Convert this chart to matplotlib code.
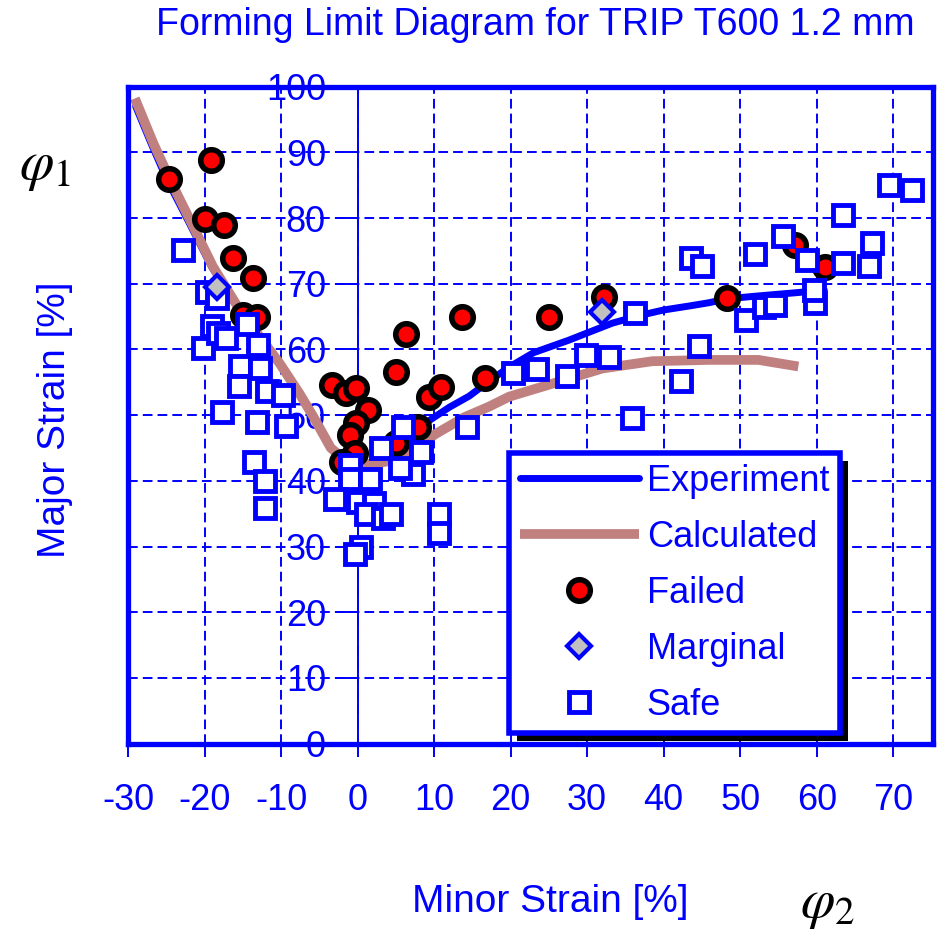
import matplotlib
matplotlib.use('Agg')
import matplotlib.pyplot as plt
from matplotlib.patches import Rectangle

plt.rcParams['font.family'] = ['Liberation Sans', 'DejaVu Sans']
plt.rcParams['mathtext.fontset'] = 'stix'
plt.rcParams['axes.unicode_minus'] = False

# kurven
exp_x = [-29.0, -27.0, -24.9, -22.2, -19.1, -15.5, -12.6, -10.3, -7.6, -5.8, -3.5, -1.5,
         1.0, 3.7, 7.0, 9.4, 12.0, 14.6, 17.0, 19.8, 23.0, 27.6, 30.0, 33.3, 37.0, 40.0,
         43.3, 45.9, 48.3, 52.0, 56.0, 61.0]
exp_y = [97.0, 91.4, 85.8, 79.7, 72.6, 66.0, 61.5, 57.9, 53.3, 49.8, 45.0, 43.0,
         42.5, 42.9, 45.5, 49.2, 51.2, 52.9, 55.0, 57.3, 59.5, 61.4, 62.5, 64.0, 65.2, 66.0,
         66.6, 67.1, 67.7, 68.1, 68.5, 69.0]

calc_x = [-29.1, -26.7, -24.5, -21.9, -18.9, -15.4, -12.5, -10.2, -7.6, -5.8, -3.5, -1.5,
          1.0, 3.7, 6.3, 10.3, 14.0, 17.2, 19.8, 25.5, 32.0, 38.5, 45.9, 52.4, 57.6]
calc_y = [98.2, 91.4, 85.8, 79.7, 72.6, 66.0, 61.5, 57.9, 53.3, 49.8, 45.0, 43.0,
          42.5, 42.9, 44.2, 47.2, 49.7, 51.3, 52.8, 54.8, 57.1, 58.2, 58.4, 58.4, 57.4]

# messpunkte
failed_x = [-24.7, -19.2, -19.9, -17.5, -16.3, -13.7, -15.0, -13.2,
            -3.4, -1.5, -0.2, 1.3, -0.2, -1.0, -0.4, -2.0,
            5.0, 6.3, 13.7, 25.0, 16.6, 9.4, 10.9, 7.9, 5.0,
            32.2, 48.3, 57.2, 61.1]
failed_y = [85.9, 88.9, 79.8, 78.9, 73.9, 70.8, 65.2, 65.0,
            54.6, 53.3, 54.1, 50.8, 48.8, 47.0, 44.2, 42.9,
            56.6, 62.4, 64.9, 64.9, 55.6, 52.8, 54.3, 48.2, 45.7,
            68.0, 67.8, 75.9, 72.6]

marginal_x = [-18.4, 32.0]
marginal_y = [69.5, 65.7]

safe_x = [-22.8, -19.7, -18.4, -20.2, -19.0, -18.2, -17.2, -14.5, -13.0, -15.4, -12.8,
          -15.5, -11.9, -9.7, -17.7, -13.1, -9.3, -13.5, -12.1, -12.1,
          5.9, 14.3, 3.1, 8.3, 7.2, 5.5, -1.0, -1.0, 1.6, -3.0, 0.0, 2.2, 1.1, 3.3,
          4.4, 0.5, -0.4, 10.7, 10.6,
          20.3, 23.5, 27.4, 29.9, 32.9, 36.3, 35.9, 42.3, 44.6, 43.6, 45.0, 50.8,
          53.1, 54.5, 59.8, 59.6, 52.0, 55.6, 58.7, 63.5, 67.2, 63.5, 66.8, 69.5, 72.4]
safe_y = [75.1, 68.8, 67.8, 60.2, 63.5, 62.5, 61.8, 63.8, 60.6, 57.5, 57.1,
          54.5, 53.6, 53.0, 50.5, 48.9, 48.3, 42.9, 39.9, 35.8,
          48.2, 48.2, 45.0, 44.4, 41.1, 42.0, 42.4, 40.2, 40.2, 37.3, 36.7, 36.6, 35.0, 34.3,
          35.0, 30.0, 28.8, 34.9, 32.0,
          56.4, 57.0, 55.9, 59.2, 58.9, 65.5, 49.5, 55.2, 60.5, 73.9, 72.7, 64.4,
          66.5, 66.8, 67.0, 69.0, 74.5, 77.3, 73.6, 80.5, 76.2, 73.1, 72.7, 85.0, 84.3]

x_ticks = list(range(-30, 80, 10))
y_ticks = list(range(0, 110, 10))

blau = '#0000FF'
braun = '#C08080'

fig = plt.figure(figsize=(9.38, 9.35), dpi=100)
ax = fig.add_axes([128 / 938, 1 - 743.6 / 935, 805 / 938, 657 / 935])
ax.set_xlim(-30, 75.2)
ax.set_ylim(0, 100)

ax.plot(exp_x, exp_y, color=blau, lw=5, solid_capstyle='round', zorder=2, label='Experiment')
ax.plot(calc_x, calc_y, color=braun, lw=7, solid_capstyle='butt', zorder=2.1, label='Calculated')
ax.plot(failed_x, failed_y, 'o', ms=15.5, mfc='red', mec='black', mew=4, zorder=3, label='Failed')
ax.plot(marginal_x, marginal_y, 'D', ms=12.5, mfc='#C0C0C0', mec=blau, mew=3, zorder=5, label='Marginal')
ax.plot(safe_x, safe_y, 's', ms=14, mfc='white', mec=blau, mew=3.5, zorder=4, label='Safe')

# achsen / rahmen
ax.set_xticks(x_ticks)
ax.set_yticks(y_ticks)
ax.grid(True, color=blau, linestyle=(0, (5, 2.6)), linewidth=1.4)
ax.set_axisbelow(True)
ax.spines['left'].set_position(('data', 0))
ax.spines['left'].set_linewidth(1.4)
for s in ['top', 'right', 'bottom']:
    ax.spines[s].set_linewidth(3.8)
for s in ax.spines.values():
    s.set_color(blau)
ax.axvline(-30, color=blau, lw=3.8, clip_on=False, zorder=6)
ax.tick_params(axis='y', direction='out', length=15.8, width=1.4, colors=blau, pad=7, labelsize=26)
ax.tick_params(axis='x', direction='out', length=9.5, width=1.4, colors=blau, pad=19, labelsize=26)

leg = ax.legend(loc='upper left', bbox_to_anchor=(0.473, 0.4423), borderaxespad=0,
                fontsize=26, handlelength=3.3, handletextpad=0.22, labelspacing=0.58,
                borderpad=0.3, fancybox=False, framealpha=1, numpoints=1)
leg.get_frame().set_edgecolor(blau)
leg.get_frame().set_linewidth(4)
leg.set_zorder(10)
for t in leg.get_texts():
    t.set_color(blau)

fig.text(535 / 938, 1 - 25 / 935, 'Forming Limit Diagram for TRIP T600 1.2 mm',
         color=blau, fontsize=27, ha='center', va='center')
fig.text(55 / 938, 1 - 420 / 935, 'Major Strain [%]', color=blau, fontsize=28,
         rotation=90, ha='center', va='center')
fig.text(550 / 938, 1 - 902 / 935, 'Minor Strain [%]', color=blau, fontsize=28,
         ha='center', va='center')
fig.text(45 / 938, 1 - 167 / 935, r'$\varphi_1$', color='black', fontsize=40,
         ha='center', va='center')
fig.text(828 / 938, 1 - 905 / 935, r'$\varphi_2$', color='black', fontsize=40,
         ha='center', va='center')

# schatten unter der legende
fig.canvas.draw()
bb = leg.get_window_extent().transformed(fig.transFigure.inverted())
dx, dy = 8 / 938, 8 / 935
schatten = Rectangle((bb.x0 + dx, bb.y0 - dy), bb.width, bb.height, transform=fig.transFigure,
                     facecolor='black', edgecolor='none', zorder=9, clip_on=False)
ax.add_patch(schatten)

fig.savefig('out.png', dpi=100)
